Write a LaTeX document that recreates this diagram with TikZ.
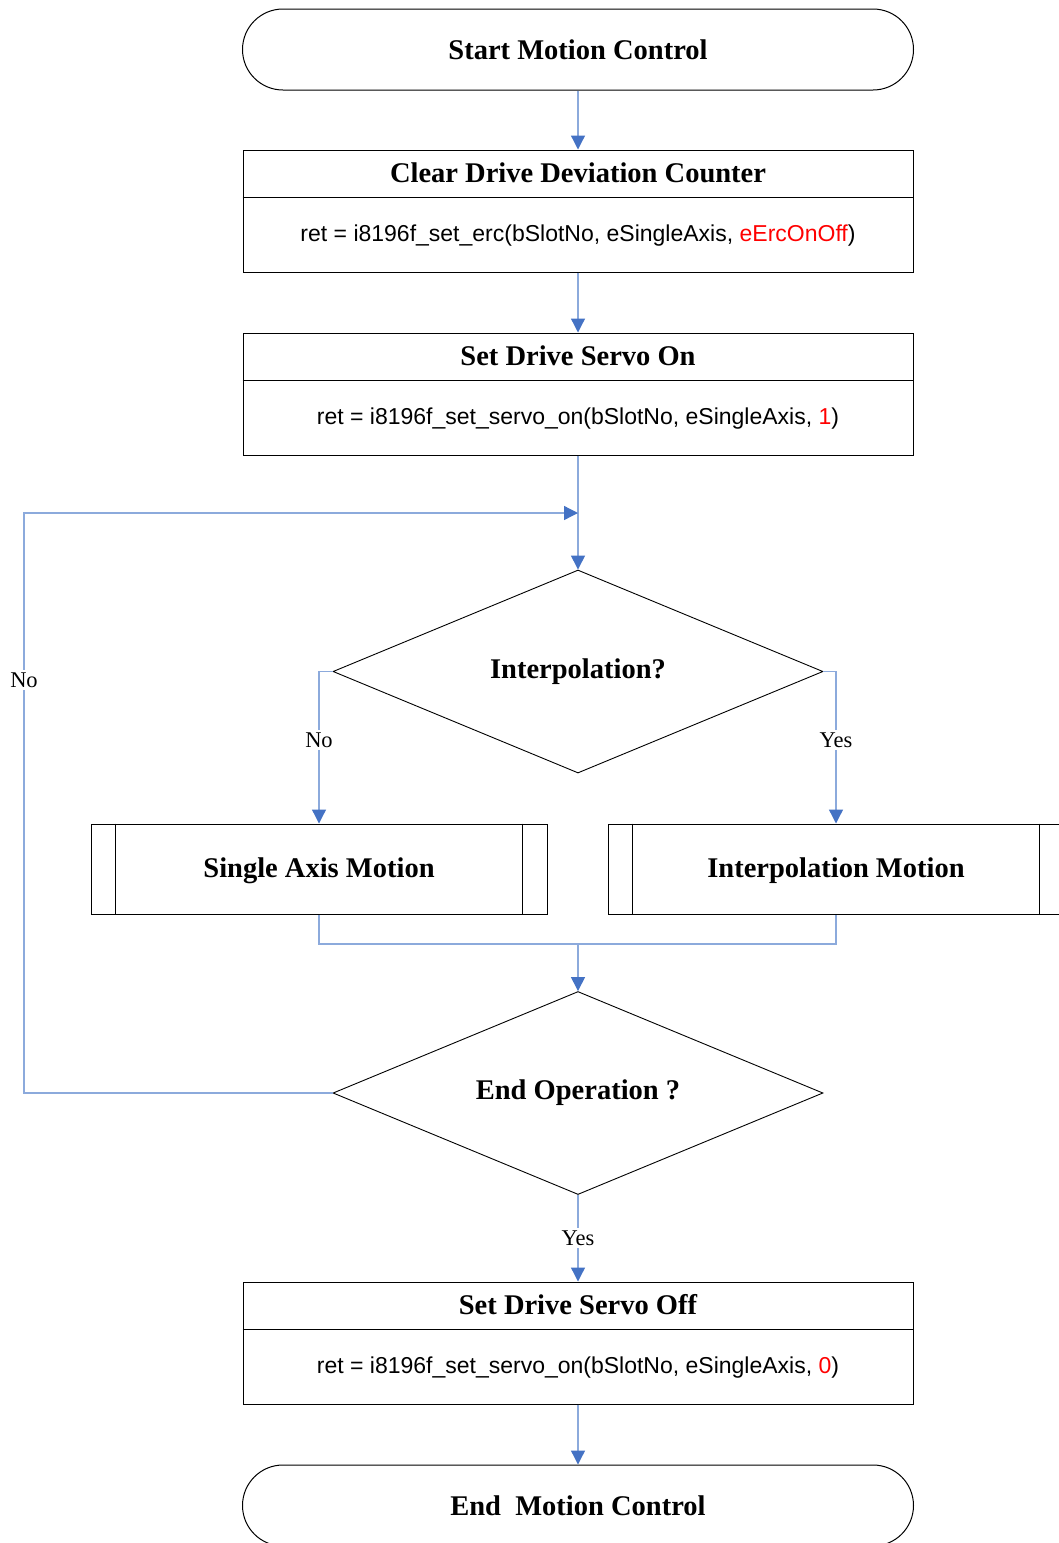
\documentclass[tikz,border=0pt]{standalone}
\usepackage{fontspec}
\setmainfont{Liberation Serif}
\setsansfont{Liberation Sans}
\usetikzlibrary{shapes.geometric,arrows.meta}
\definecolor{linkblue}{RGB}{140,170,220}
\definecolor{tipblue}{RGB}{68,114,196}
\definecolor{codered}{RGB}{255,0,0}
\tikzset{
  titlefont/.style={font=\bfseries\fontsize{28.5}{31}\selectfont},
  codefont/.style={font=\sffamily\fontsize{23}{26}\selectfont},
  terminal/.style={draw=black,line width=1pt,rounded corners=40.5pt,minimum width=671pt,minimum height=81pt,inner sep=0pt,titlefont},
  procbox/.style={draw=black,line width=1pt,minimum width=670pt,minimum height=122pt,inner sep=0pt},
  predef/.style={draw=black,line width=1pt,minimum width=456pt,minimum height=90pt,inner sep=0pt},
  decision/.style={draw=black,line width=0.9pt,diamond,aspect=2.41,minimum width=490pt,minimum height=203pt,inner sep=0pt,titlefont},
  txt/.style={inner sep=0pt},
  link/.style={draw=linkblue,line width=1.3pt},
  arrowlink/.style={link,-{Triangle[length=14pt,width=14pt,color=tipblue]}},
  lbl/.style={fill=white,inner sep=3pt,font=\fontsize{22.5}{24}\selectfont},
}
\begin{document}
\begin{tikzpicture}[x=1pt,y=-1pt]
\useasboundingbox (0,0) rectangle (1059,1543);
% start
\node[terminal] (start) at (578,49.5) {Start Motion Control};
% box 1
\node[procbox] (b1) at (578,211) {};
\draw[line width=1pt] (b1.west |- 0,197) -- (b1.east |- 0,197);
\node[txt,titlefont] (b1t) at (578,173) {Clear Drive Deviation Counter};
\node[txt,codefont] (b1c) at (578,236) {ret = i8196f\_set\_erc(bSlotNo, eSingleAxis, \textcolor{codered}{eErcOnOff})};
% box 2
\node[procbox] (b2) at (578,394) {};
\draw[line width=1pt] (b2.west |- 0,380) -- (b2.east |- 0,380);
\node[txt,titlefont] (b2t) at (578,356) {Set Drive Servo On};
\node[txt,codefont] (b2c) at (578,419) {ret = i8196f\_set\_servo\_on(bSlotNo, eSingleAxis, \textcolor{codered}{1})};
% decision 1
\node[decision] (d1) at (578,671.5) {Interpolation?};
% predefined processes
\node[predef] (single) at (319,869) {};
\node[txt,titlefont] (singleT) at (319,871) {Single Axis Motion};
\draw[line width=1pt] ([xshift=25pt]single.north west) -- ([xshift=25pt]single.south west);
\draw[line width=1pt] ([xshift=-25pt]single.north east) -- ([xshift=-25pt]single.south east);
\node[predef] (interp) at (836,869) {};
\node[txt,titlefont] (interpT) at (836,871) {Interpolation Motion};
\draw[line width=1pt] ([xshift=25pt]interp.north west) -- ([xshift=25pt]interp.south west);
\draw[line width=1pt] ([xshift=-25pt]interp.north east) -- ([xshift=-25pt]interp.south east);
% decision 2
\node[decision] (d2) at (578,1093) {End Operation ?};
% box 3
\node[procbox] (b3) at (578,1343) {};
\draw[line width=1pt] (b3.west |- 0,1329) -- (b3.east |- 0,1329);
\node[txt,titlefont] (b3t) at (578,1305) {Set Drive Servo Off};
\node[txt,codefont] (b3c) at (578,1368) {ret = i8196f\_set\_servo\_on(bSlotNo, eSingleAxis, \textcolor{codered}{0})};
% end
\node[terminal] (end) at (578,1505.5) {End\ \ Motion Control};
% coordinates
\coordinate (loopA) at (24,1093);
\coordinate (loopB) at (24,513);
\coordinate (loopC) at (578,513);
\coordinate (noTurn) at (319,671.5);
\coordinate (yesTurn) at (836,671.5);
\coordinate (singleLow) at (319,944);
\coordinate (interpLow) at (836,944);
\coordinate (merge) at (578,944);
% connectors
\draw[arrowlink] (start.south) -- (b1.north);
\draw[arrowlink] (b1.south) -- (b2.north);
\draw[arrowlink] (b2.south) -- (d1.north);
\draw[arrowlink] (d2.west) -- (loopA) -- (loopB) -- (loopC);
\node[lbl] (noLoop) at (24,680) {No};
\draw[arrowlink] (d1.west) -- (noTurn) -- (single.north);
\node[lbl] (noLbl) at (319,740) {No};
\draw[arrowlink] (d1.east) -- (yesTurn) -- (interp.north);
\node[lbl] (yesLbl) at (836,740) {Yes};
\draw[link] (single.south) -- (singleLow) -- (interpLow) -- (interp.south);
\draw[arrowlink] (merge) -- (d2.north);
\draw[arrowlink] (d2.south) -- (b3.north);
\node[lbl] (yesLbl2) at (578,1238) {Yes};
\draw[arrowlink] (b3.south) -- (end.north);
\end{tikzpicture}
\end{document}
